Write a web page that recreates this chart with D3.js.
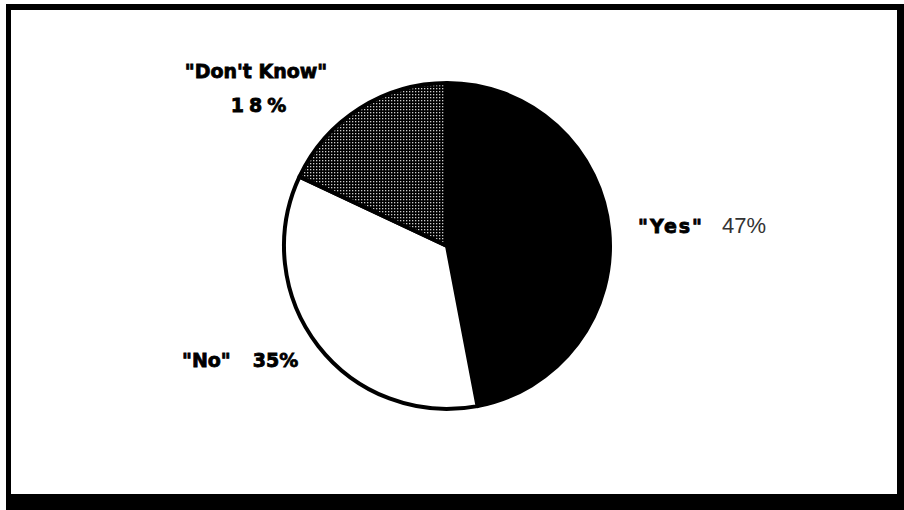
<!DOCTYPE html>
<html>
<head>
<meta charset="utf-8">
<script src="https://cdn.jsdelivr.net/npm/d3@7"></script>
<style>
  body { margin: 0; background: #fff; }
  svg { display: block; }
  .lbl { font-family: "DejaVu Sans", sans-serif; font-weight: bold; fill: #000; stroke: #000; stroke-width: 0.8px; }
</style>
</head>
<body>
<div id="chart"></div>
<script>
// Survey answers, clockwise from 12 o'clock
const answers = ['"Yes"', '"No"', '"Don\'t Know"'];
const shares = [47, 35, 18];
const shareLabels = ['47%', '35%', '18%'];

const width = 904;
const height = 510;

const svg = d3.select('#chart')
  .append('svg')
  .attr('width', width)
  .attr('height', height);

// Stipple fill for the "Don't Know" slice
const defs = svg.append('defs');
const pat = defs.append('pattern')
  .attr('id', 'stipple')
  .attr('patternUnits', 'userSpaceOnUse')
  .attr('width', 3)
  .attr('height', 3);
pat.append('rect').attr('width', 3).attr('height', 3).attr('fill', '#000');
pat.append('rect').attr('x', 1).attr('y', 1).attr('width', 1.3).attr('height', 1.3).attr('fill', '#ccc');

// Frame: thin top/left, heavy bottom/right
svg.append('rect')
  .attr('x', 6).attr('y', 4)
  .attr('width', width - 6).attr('height', height - 4)
  .attr('fill', '#000');
svg.append('rect')
  .attr('x', 11).attr('y', 10)
  .attr('width', 897 - 11).attr('height', 494 - 10)
  .attr('fill', '#fff');

const cx = 447;
const cy = 246;
const radius = 163;

const fills = ['#000', '#fff', 'url(#stipple)'];

const pie = d3.pie().sort(null).value((d) => d);
const arc = d3.arc().innerRadius(0).outerRadius(radius);

const g = svg.append('g').attr('transform', `translate(${cx},${cy})`);

g.selectAll('path')
  .data(pie(shares))
  .enter()
  .append('path')
  .attr('d', arc)
  .attr('fill', (d, i) => fills[i])
  .attr('stroke', '#000')
  .attr('stroke-width', 4)
  .attr('stroke-linejoin', 'round');

// Label placement relative to the pie centre
const yes = g.append('text').attr('x', 191).attr('y', -13);
yes.append('tspan')
  .attr('class', 'lbl')
  .attr('font-size', 19)
  .attr('letter-spacing', 2)
  .text(answers[0]);
yes.append('tspan')
  .attr('dx', 18)
  .attr('font-family', '"Liberation Sans", Arial, sans-serif')
  .attr('font-size', 22)
  .attr('fill', '#333')
  .text(shareLabels[0]);

const no = g.append('text').attr('x', -265).attr('y', 121).attr('class', 'lbl').attr('font-size', 19);
no.append('tspan').text(answers[1]);
no.append('tspan').attr('dx', 22).text(shareLabels[1]);

g.append('text')
  .attr('class', 'lbl')
  .attr('x', -191).attr('y', -168)
  .attr('text-anchor', 'middle')
  .attr('font-size', 19)
  .text(answers[2]);

g.append('text')
  .attr('class', 'lbl')
  .attr('x', -186).attr('y', -134)
  .attr('text-anchor', 'middle')
  .attr('font-size', 19)
  .attr('letter-spacing', 5)
  .text(shareLabels[2]);
</script>
</body>
</html>
